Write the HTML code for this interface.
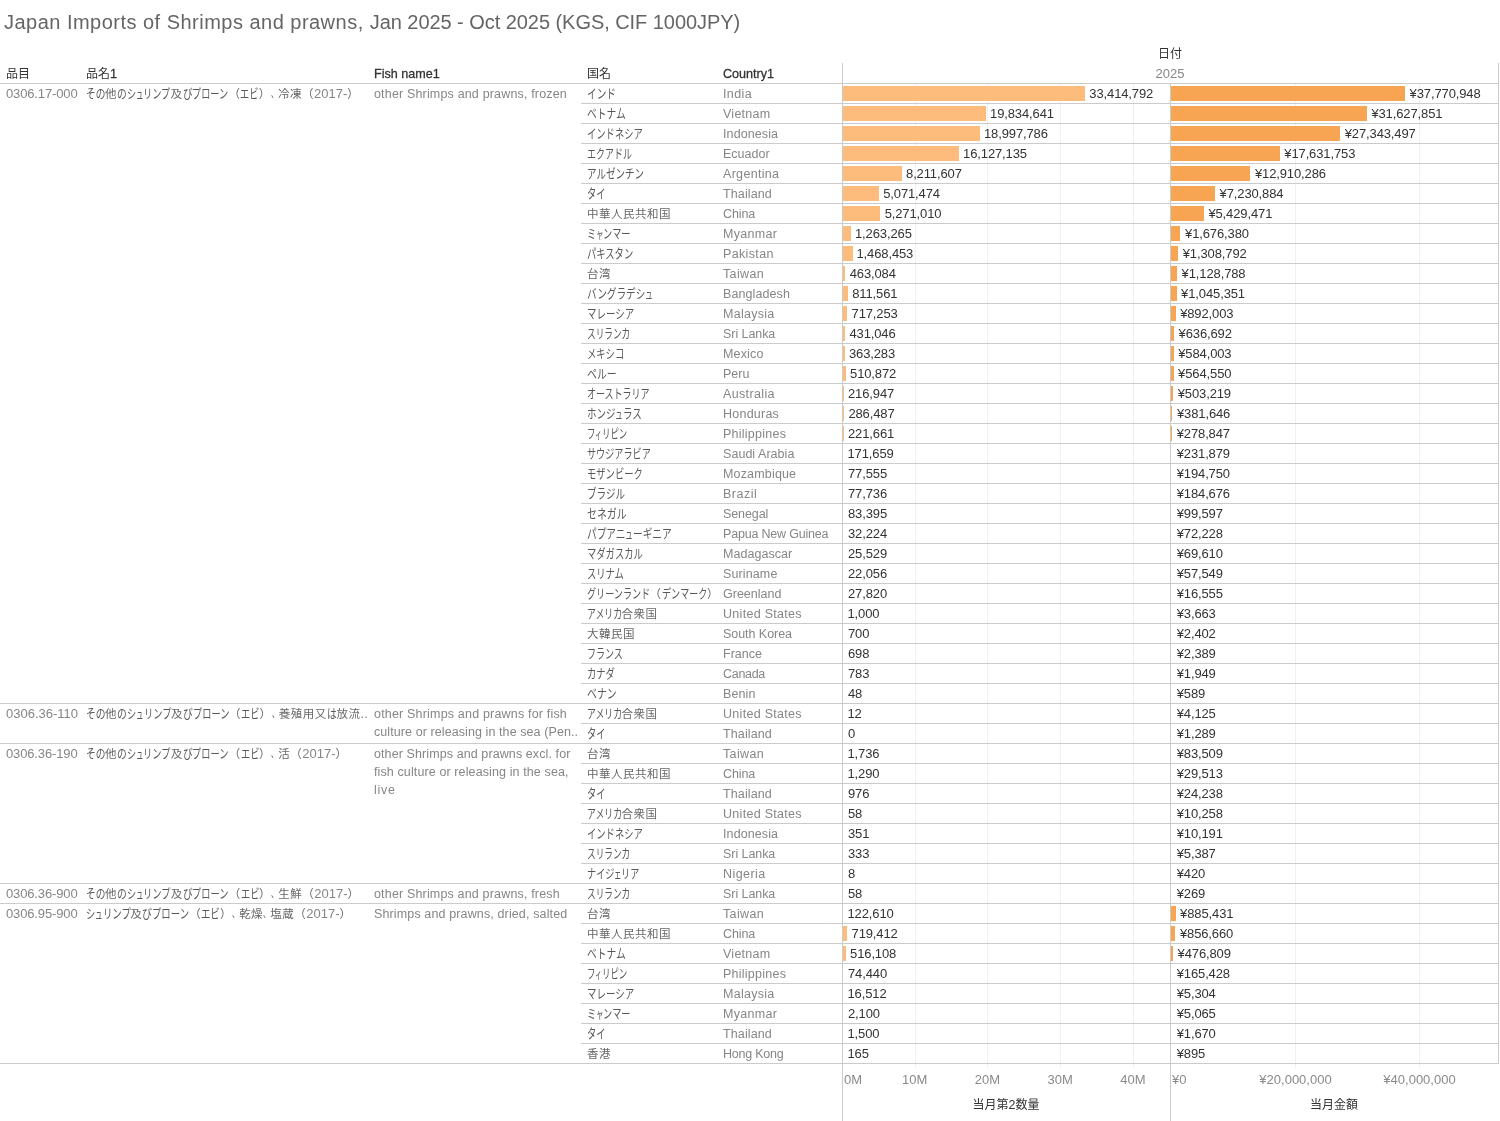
<!DOCTYPE html>
<html lang="ja"><head><meta charset="utf-8"><title>Japan Imports of Shrimps and prawns</title>
<style>
html,body{margin:0;padding:0;background:#fff}
body{width:1500px;height:1121px;position:relative;overflow:hidden;font-family:"Liberation Sans","Noto Sans CJK JP",sans-serif;font-size:12.5px;color:#333}
.h{position:absolute;height:1px}
.v{position:absolute;width:1px}
.t{position:absolute;white-space:nowrap;line-height:20px;height:20px}
.ctr{transform:translateX(-50%)}
.g{color:#868686}
.dk{color:#333}
.ax{color:#8a8a8a}
.num,.n{font-size:13px}
.dk.num{letter-spacing:-0.12px}
.hd{color:#333;font-weight:400;font-size:12px}
.hd .j,.dk .j{font-size:12px;letter-spacing:0}
.hd b{font-weight:normal;font-size:12.6px;-webkit-text-stroke:0.28px #333}
.title{font-size:20px;color:#656565;line-height:28px;height:28px}
.k,.c,.j{font-size:12px;display:inline-block}
.k{transform-origin:0 52%;font-weight:400}
.j{font-size:11.5px;letter-spacing:0.5px}
.g .j,.g .c{color:#686868}
.g .k{color:#585858}
.c{transform:scaleX(0.6);transform-origin:0 50%}
.b{position:absolute;height:15px}
.b.l{background:#fdbb7c}
.b.r{background:#f7a453}
</style></head><body>
<div class="v" style="left:915px;top:83px;height:985px;background:#f0f0f0"></div>
<div class="v" style="left:987px;top:83px;height:985px;background:#f0f0f0"></div>
<div class="v" style="left:1060px;top:83px;height:985px;background:#f0f0f0"></div>
<div class="v" style="left:1133px;top:83px;height:985px;background:#f0f0f0"></div>
<div class="v" style="left:1295px;top:83px;height:985px;background:#f0f0f0"></div>
<div class="v" style="left:1419px;top:83px;height:985px;background:#f0f0f0"></div>
<div class="t title" style="left:4.00px;top:8px;"><span style="letter-spacing:0.48px">Japan Imports of Shrimps and prawns, </span><span style="letter-spacing:-0.05px">Jan 2025 - Oct 2025 (KGS, CIF 1000JPY)</span></div>
<div class="t hd" style="left:6.00px;top:64px;"><span class="j">品目</span></div>
<div class="t hd" style="left:86.00px;top:64px;"><span class="j">品名</span><b>1</b></div>
<div class="t hd" style="left:374.00px;top:64px;"><b>Fish name1</b></div>
<div class="t hd" style="left:587.00px;top:64px;"><span class="j">国名</span></div>
<div class="t hd" style="left:723.00px;top:64px;"><b>Country1</b></div>
<div class="t dk ctr" style="left:1170.00px;top:44px;"><span class="j">日付</span></div>
<div class="t g num ctr" style="left:1170.00px;top:64px;">2025</div>
<div class="h" style="left:0px;top:83px;width:1499px;background:#cbcbcb"></div>
<div class="t g num" style="left:6.00px;top:84px;letter-spacing:-0.140px;">0306.17-000</div>
<div class="t g" style="left:85.50px;top:84px;"><span class="k" style="transform:scale(0.809,1.08);margin-right:-4.58px">その</span><span class="j">他</span><span class="k" style="transform:scale(0.809,1.08);margin-right:-2.29px">の</span><span class="k" style="transform:scale(0.765,1.08);margin-right:-2.82px">シ</span><span class="k" style="transform:scale(0.622,1.08);margin-right:-4.54px">ュ</span><span class="k" style="transform:scale(0.765,1.08);margin-right:-8.46px">リンプ</span><span class="j">及</span><span class="k" style="transform:scale(0.809,1.08);margin-right:-2.29px">び</span><span class="k" style="transform:scale(0.765,1.08);margin-right:-11.28px">プローン</span><span class="j">（</span><span class="k" style="transform:scale(0.765,1.08);margin-right:-5.64px">エビ</span><span class="j">）</span><span class="c" style="margin-right:-4.80px">、</span><span class="j">冷凍</span><span class="j">（</span><span class="n">2017-</span><span class="j">）</span></div>
<div class="t g" style="left:374.00px;top:84px;letter-spacing:0.168px;">other Shrimps and prawns, frozen</div>
<div class="t g" style="left:586.50px;top:84px;"><span class="k" style="transform:scale(0.804,1.08);margin-right:-7.06px">インド</span></div>
<div class="t g" style="left:723.00px;top:84px;letter-spacing:0.375px;">India</div>
<div class="b l" style="left:843px;top:86px;width:242.03px"></div>
<div class="t dk num" style="left:1089.33px;top:84px;">33,414,792</div>
<div class="b r" style="left:1171px;top:86px;width:234.01px"></div>
<div class="t dk num" style="left:1409.61px;top:84px;">¥37,770,948</div>
<div class="h" style="left:581px;top:103px;width:918px;background:#cbcbcb"></div>
<div class="t g" style="left:586.50px;top:104px;"><span class="k" style="transform:scale(0.811,1.08);margin-right:-9.09px">ベトナム</span></div>
<div class="t g" style="left:723.00px;top:104px;letter-spacing:0.250px;">Vietnam</div>
<div class="b l" style="left:843px;top:106px;width:143.26px"></div>
<div class="t dk num" style="left:990.06px;top:104px;">19,834,641</div>
<div class="b r" style="left:1171px;top:106px;width:195.79px"></div>
<div class="t dk num" style="left:1371.39px;top:104px;">¥31,627,851</div>
<div class="h" style="left:581px;top:123px;width:918px;background:#cbcbcb"></div>
<div class="t g" style="left:586.50px;top:124px;"><span class="k" style="transform:scale(0.775,1.08);margin-right:-16.20px">インドネシア</span></div>
<div class="t g" style="left:723.00px;top:124px;letter-spacing:0.104px;">Indonesia</div>
<div class="b l" style="left:843px;top:126px;width:137.17px"></div>
<div class="t dk num" style="left:983.97px;top:124px;">18,997,786</div>
<div class="b r" style="left:1171px;top:126px;width:169.13px"></div>
<div class="t dk num" style="left:1344.73px;top:124px;">¥27,343,497</div>
<div class="h" style="left:581px;top:143px;width:918px;background:#cbcbcb"></div>
<div class="t g" style="left:586.50px;top:144px;"><span class="k" style="transform:scale(0.748,1.08);margin-right:-15.14px">エクアドル</span></div>
<div class="t g" style="left:723.00px;top:144px;letter-spacing:0.000px;">Ecuador</div>
<div class="b l" style="left:843px;top:146px;width:116.29px"></div>
<div class="t dk num" style="left:963.09px;top:144px;">16,127,135</div>
<div class="b r" style="left:1171px;top:146px;width:108.70px"></div>
<div class="t dk num" style="left:1284.30px;top:144px;">¥17,631,753</div>
<div class="h" style="left:581px;top:163px;width:918px;background:#cbcbcb"></div>
<div class="t g" style="left:586.50px;top:164px;"><span class="k" style="transform:scale(0.794,1.08);margin-right:-14.82px">アルゼンチン</span></div>
<div class="t g" style="left:723.00px;top:164px;letter-spacing:0.312px;">Argentina</div>
<div class="b l" style="left:843px;top:166px;width:58.72px"></div>
<div class="t dk num" style="left:906.02px;top:164px;">8,211,607</div>
<div class="b r" style="left:1171px;top:166px;width:79.33px"></div>
<div class="t dk num" style="left:1254.93px;top:164px;">¥12,910,286</div>
<div class="h" style="left:581px;top:183px;width:918px;background:#cbcbcb"></div>
<div class="t g" style="left:586.50px;top:184px;"><span class="k" style="transform:scale(0.775,1.08);margin-right:-5.40px">タイ</span></div>
<div class="t g" style="left:723.00px;top:184px;letter-spacing:0.119px;">Thailand</div>
<div class="b l" style="left:843px;top:186px;width:35.88px"></div>
<div class="t dk num" style="left:883.18px;top:184px;">5,071,474</div>
<div class="b r" style="left:1171px;top:186px;width:43.99px"></div>
<div class="t dk num" style="left:1219.59px;top:184px;">¥7,230,884</div>
<div class="h" style="left:581px;top:203px;width:918px;background:#cbcbcb"></div>
<div class="t g" style="left:587.00px;top:204px;"><span class="j">中華人民共和国</span></div>
<div class="t g" style="left:723.00px;top:204px;letter-spacing:-0.125px;">China</div>
<div class="b l" style="left:843px;top:206px;width:37.34px"></div>
<div class="t dk num" style="left:884.64px;top:204px;">5,271,010</div>
<div class="b r" style="left:1171px;top:206px;width:32.78px"></div>
<div class="t dk num" style="left:1208.38px;top:204px;">¥5,429,471</div>
<div class="h" style="left:581px;top:223px;width:918px;background:#cbcbcb"></div>
<div class="t g" style="left:586.50px;top:224px;"><span class="k" style="transform:scale(0.765,1.08);margin-right:-2.82px">ミ</span><span class="k" style="transform:scale(0.622,1.08);margin-right:-4.54px">ャ</span><span class="k" style="transform:scale(0.765,1.08);margin-right:-8.46px">ンマー</span></div>
<div class="t g" style="left:723.00px;top:224px;letter-spacing:0.306px;">Myanmar</div>
<div class="b l" style="left:843px;top:226px;width:8.19px"></div>
<div class="t dk num" style="left:854.99px;top:224px;">1,263,265</div>
<div class="b r" style="left:1171px;top:226px;width:9.43px"></div>
<div class="t dk num" style="left:1185.03px;top:224px;">¥1,676,380</div>
<div class="h" style="left:581px;top:243px;width:918px;background:#cbcbcb"></div>
<div class="t g" style="left:586.50px;top:244px;"><span class="k" style="transform:scale(0.775,1.08);margin-right:-13.50px">パキスタン</span></div>
<div class="t g" style="left:723.00px;top:244px;letter-spacing:0.357px;">Pakistan</div>
<div class="b l" style="left:843px;top:246px;width:9.68px"></div>
<div class="t dk num" style="left:856.48px;top:244px;">1,468,453</div>
<div class="b r" style="left:1171px;top:246px;width:7.14px"></div>
<div class="t dk num" style="left:1182.74px;top:244px;">¥1,308,792</div>
<div class="h" style="left:581px;top:263px;width:918px;background:#cbcbcb"></div>
<div class="t g" style="left:587.00px;top:264px;"><span class="j">台湾</span></div>
<div class="t g" style="left:723.00px;top:264px;letter-spacing:0.367px;">Taiwan</div>
<div class="b l" style="left:843px;top:266px;width:2.37px"></div>
<div class="t dk num" style="left:849.67px;top:264px;">463,084</div>
<div class="b r" style="left:1171px;top:266px;width:6.02px"></div>
<div class="t dk num" style="left:1181.62px;top:264px;">¥1,128,788</div>
<div class="h" style="left:581px;top:283px;width:918px;background:#cbcbcb"></div>
<div class="t g" style="left:586.50px;top:284px;"><span class="k" style="transform:scale(0.804,1.08);margin-right:-14.13px">バングラデシ</span><span class="k" style="transform:scale(0.653,1.08);margin-right:-4.16px">ュ</span></div>
<div class="t g" style="left:723.00px;top:284px;letter-spacing:0.093px;">Bangladesh</div>
<div class="b l" style="left:843px;top:286px;width:4.90px"></div>
<div class="t dk num" style="left:852.20px;top:284px;">811,561</div>
<div class="b r" style="left:1171px;top:286px;width:5.50px"></div>
<div class="t dk num" style="left:1181.10px;top:284px;">¥1,045,351</div>
<div class="h" style="left:581px;top:303px;width:918px;background:#cbcbcb"></div>
<div class="t g" style="left:586.50px;top:304px;"><span class="k" style="transform:scale(0.792,1.08);margin-right:-12.46px">マレーシア</span></div>
<div class="t g" style="left:723.00px;top:304px;letter-spacing:0.262px;">Malaysia</div>
<div class="b l" style="left:843px;top:306px;width:4.22px"></div>
<div class="t dk num" style="left:851.52px;top:304px;">717,253</div>
<div class="b r" style="left:1171px;top:306px;width:4.55px"></div>
<div class="t dk num" style="left:1180.15px;top:304px;">¥892,003</div>
<div class="h" style="left:581px;top:323px;width:918px;background:#cbcbcb"></div>
<div class="t g" style="left:586.50px;top:324px;"><span class="k" style="transform:scale(0.720,1.08);margin-right:-16.79px">スリランカ</span></div>
<div class="t g" style="left:723.00px;top:324px;letter-spacing:-0.062px;">Sri Lanka</div>
<div class="b l" style="left:843px;top:326px;width:2.13px"></div>
<div class="t dk num" style="left:849.43px;top:324px;">431,046</div>
<div class="b r" style="left:1171px;top:326px;width:2.96px"></div>
<div class="t dk num" style="left:1178.56px;top:324px;">¥636,692</div>
<div class="h" style="left:581px;top:343px;width:918px;background:#cbcbcb"></div>
<div class="t g" style="left:586.50px;top:344px;"><span class="k" style="transform:scale(0.775,1.08);margin-right:-10.80px">メキシコ</span></div>
<div class="t g" style="left:723.00px;top:344px;letter-spacing:0.167px;">Mexico</div>
<div class="b l" style="left:843px;top:346px;width:1.64px"></div>
<div class="t dk num" style="left:848.94px;top:344px;">363,283</div>
<div class="b r" style="left:1171px;top:346px;width:2.63px"></div>
<div class="t dk num" style="left:1178.23px;top:344px;">¥584,003</div>
<div class="h" style="left:581px;top:363px;width:918px;background:#cbcbcb"></div>
<div class="t g" style="left:586.50px;top:364px;"><span class="k" style="transform:scale(0.823,1.08);margin-right:-6.39px">ペルー</span></div>
<div class="t g" style="left:723.00px;top:364px;letter-spacing:0.000px;">Peru</div>
<div class="b l" style="left:843px;top:366px;width:2.72px"></div>
<div class="t dk num" style="left:850.02px;top:364px;">510,872</div>
<div class="b r" style="left:1171px;top:366px;width:2.51px"></div>
<div class="t dk num" style="left:1178.11px;top:364px;">¥564,550</div>
<div class="h" style="left:581px;top:383px;width:918px;background:#cbcbcb"></div>
<div class="t g" style="left:586.50px;top:384px;"><span class="k" style="transform:scale(0.751,1.08);margin-right:-20.88px">オーストラリア</span></div>
<div class="t g" style="left:723.00px;top:384px;letter-spacing:0.354px;">Australia</div>
<div class="b l" style="left:843px;top:386px;width:0.58px"></div>
<div class="t dk num" style="left:848.00px;top:384px;">216,947</div>
<div class="b r" style="left:1171px;top:386px;width:2.13px"></div>
<div class="t dk num" style="left:1177.73px;top:384px;">¥503,219</div>
<div class="h" style="left:581px;top:403px;width:918px;background:#cbcbcb"></div>
<div class="t g" style="left:586.50px;top:404px;"><span class="k" style="transform:scale(0.794,1.08);margin-right:-7.41px">ホンジ</span><span class="k" style="transform:scale(0.646,1.08);margin-right:-4.25px">ュ</span><span class="k" style="transform:scale(0.794,1.08);margin-right:-4.94px">ラス</span></div>
<div class="t g" style="left:723.00px;top:404px;letter-spacing:0.238px;">Honduras</div>
<div class="b l" style="left:843px;top:406px;width:1.08px"></div>
<div class="t dk num" style="left:848.38px;top:404px;">286,487</div>
<div class="b r" style="left:1171px;top:406px;width:1.37px"></div>
<div class="t dk num" style="left:1176.97px;top:404px;">¥381,646</div>
<div class="h" style="left:581px;top:423px;width:918px;background:#cbcbcb"></div>
<div class="t g" style="left:586.50px;top:424px;"><span class="k" style="transform:scale(0.703,1.08);margin-right:-3.57px">フ</span><span class="k" style="transform:scale(0.571,1.08);margin-right:-5.14px">ィ</span><span class="k" style="transform:scale(0.703,1.08);margin-right:-10.70px">リピン</span></div>
<div class="t g" style="left:723.00px;top:424px;letter-spacing:0.250px;">Philippines</div>
<div class="b l" style="left:843px;top:426px;width:0.61px"></div>
<div class="t dk num" style="left:848.00px;top:424px;">221,661</div>
<div class="b r" style="left:1171px;top:426px;width:0.73px"></div>
<div class="t dk num" style="left:1176.70px;top:424px;">¥278,847</div>
<div class="h" style="left:581px;top:443px;width:918px;background:#cbcbcb"></div>
<div class="t g" style="left:586.50px;top:444px;"><span class="k" style="transform:scale(0.759,1.08);margin-right:-20.21px">サウジアラビア</span></div>
<div class="t g" style="left:723.00px;top:444px;letter-spacing:0.045px;">Saudi Arabia</div>
<div class="t dk num" style="left:847.50px;top:444px;">171,659</div>
<div class="t dk num" style="left:1176.70px;top:444px;">¥231,879</div>
<div class="h" style="left:581px;top:463px;width:918px;background:#cbcbcb"></div>
<div class="t g" style="left:586.50px;top:464px;"><span class="k" style="transform:scale(0.775,1.08);margin-right:-16.20px">モザンビーク</span></div>
<div class="t g" style="left:723.00px;top:464px;letter-spacing:0.167px;">Mozambique</div>
<div class="t dk num" style="left:848.00px;top:464px;">77,555</div>
<div class="t dk num" style="left:1176.70px;top:464px;">¥194,750</div>
<div class="h" style="left:581px;top:483px;width:918px;background:#cbcbcb"></div>
<div class="t g" style="left:586.50px;top:484px;"><span class="k" style="transform:scale(0.797,1.08);margin-right:-9.76px">ブラジル</span></div>
<div class="t g" style="left:723.00px;top:484px;letter-spacing:0.500px;">Brazil</div>
<div class="t dk num" style="left:848.00px;top:484px;">77,736</div>
<div class="t dk num" style="left:1176.70px;top:484px;">¥184,676</div>
<div class="h" style="left:581px;top:503px;width:918px;background:#cbcbcb"></div>
<div class="t g" style="left:586.50px;top:504px;"><span class="k" style="transform:scale(0.825,1.08);margin-right:-8.38px">セネガル</span></div>
<div class="t g" style="left:723.00px;top:504px;letter-spacing:-0.083px;">Senegal</div>
<div class="t dk num" style="left:848.00px;top:504px;">83,395</div>
<div class="t dk num" style="left:1176.70px;top:504px;">¥99,597</div>
<div class="h" style="left:581px;top:523px;width:918px;background:#cbcbcb"></div>
<div class="t g" style="left:586.50px;top:524px;"><span class="k" style="transform:scale(0.807,1.08);margin-right:-9.28px">パプアニ</span><span class="k" style="transform:scale(0.656,1.08);margin-right:-4.13px">ュ</span><span class="k" style="transform:scale(0.807,1.08);margin-right:-9.28px">ーギニア</span></div>
<div class="t g" style="left:723.00px;top:524px;letter-spacing:-0.189px;">Papua New Guinea</div>
<div class="t dk num" style="left:848.00px;top:524px;">32,224</div>
<div class="t dk num" style="left:1176.70px;top:524px;">¥72,228</div>
<div class="h" style="left:581px;top:543px;width:918px;background:#cbcbcb"></div>
<div class="t g" style="left:586.50px;top:544px;"><span class="k" style="transform:scale(0.775,1.08);margin-right:-16.20px">マダガスカル</span></div>
<div class="t g" style="left:723.00px;top:544px;letter-spacing:0.037px;">Madagascar</div>
<div class="t dk num" style="left:848.00px;top:544px;">25,529</div>
<div class="t dk num" style="left:1176.70px;top:544px;">¥69,610</div>
<div class="h" style="left:581px;top:563px;width:918px;background:#cbcbcb"></div>
<div class="t g" style="left:586.50px;top:564px;"><span class="k" style="transform:scale(0.775,1.08);margin-right:-10.80px">スリナム</span></div>
<div class="t g" style="left:723.00px;top:564px;letter-spacing:0.119px;">Suriname</div>
<div class="t dk num" style="left:848.00px;top:564px;">22,056</div>
<div class="t dk num" style="left:1176.70px;top:564px;">¥57,549</div>
<div class="h" style="left:581px;top:583px;width:918px;background:#cbcbcb"></div>
<div class="t g" style="left:586.50px;top:584px;"><span class="k" style="transform:scale(0.757,1.08);margin-right:-20.42px">グリーンランド</span><span class="j">（</span><span class="k" style="transform:scale(0.757,1.08);margin-right:-14.59px">デンマーク</span><span class="j">）</span></div>
<div class="t g" style="left:723.00px;top:584px;letter-spacing:0.000px;">Greenland</div>
<div class="t dk num" style="left:848.00px;top:584px;">27,820</div>
<div class="t dk num" style="left:1176.70px;top:584px;">¥16,555</div>
<div class="h" style="left:581px;top:603px;width:918px;background:#cbcbcb"></div>
<div class="t g" style="left:586.50px;top:604px;"><span class="k" style="transform:scale(0.741,1.08);margin-right:-12.41px">アメリカ</span><span class="j">合衆国</span></div>
<div class="t g" style="left:723.00px;top:604px;letter-spacing:0.292px;">United States</div>
<div class="t dk num" style="left:847.50px;top:604px;">1,000</div>
<div class="t dk num" style="left:1176.70px;top:604px;">¥3,663</div>
<div class="h" style="left:581px;top:623px;width:918px;background:#cbcbcb"></div>
<div class="t g" style="left:587.00px;top:624px;"><span class="j">大韓民国</span></div>
<div class="t g" style="left:723.00px;top:624px;letter-spacing:-0.050px;">South Korea</div>
<div class="t dk num" style="left:848.00px;top:624px;">700</div>
<div class="t dk num" style="left:1176.70px;top:624px;">¥2,402</div>
<div class="h" style="left:581px;top:643px;width:918px;background:#cbcbcb"></div>
<div class="t g" style="left:586.50px;top:644px;"><span class="k" style="transform:scale(0.748,1.08);margin-right:-12.11px">フランス</span></div>
<div class="t g" style="left:723.00px;top:644px;letter-spacing:0.000px;">France</div>
<div class="t dk num" style="left:848.00px;top:644px;">698</div>
<div class="t dk num" style="left:1176.70px;top:644px;">¥2,389</div>
<div class="h" style="left:581px;top:663px;width:918px;background:#cbcbcb"></div>
<div class="t g" style="left:586.50px;top:664px;"><span class="k" style="transform:scale(0.775,1.08);margin-right:-8.10px">カナダ</span></div>
<div class="t g" style="left:723.00px;top:664px;letter-spacing:-0.300px;">Canada</div>
<div class="t dk num" style="left:848.00px;top:664px;">783</div>
<div class="t dk num" style="left:1176.70px;top:664px;">¥1,949</div>
<div class="h" style="left:581px;top:683px;width:918px;background:#cbcbcb"></div>
<div class="t g" style="left:586.50px;top:684px;"><span class="k" style="transform:scale(0.823,1.08);margin-right:-6.39px">ベナン</span></div>
<div class="t g" style="left:723.00px;top:684px;letter-spacing:0.125px;">Benin</div>
<div class="t dk num" style="left:848.00px;top:684px;">48</div>
<div class="t dk num" style="left:1176.70px;top:684px;">¥589</div>
<div class="h" style="left:581px;top:703px;width:918px;background:#cbcbcb"></div>
<div class="h" style="left:0px;top:703px;width:581px;background:#cbcbcb"></div>
<div class="t g num" style="left:6.00px;top:704px;letter-spacing:0.000px;">0306.36-110</div>
<div class="t g" style="left:85.50px;top:704px;"><span class="k" style="transform:scale(0.814,1.08);margin-right:-4.47px">その</span><span class="j">他</span><span class="k" style="transform:scale(0.814,1.08);margin-right:-2.23px">の</span><span class="k" style="transform:scale(0.769,1.08);margin-right:-2.77px">シ</span><span class="k" style="transform:scale(0.625,1.08);margin-right:-4.50px">ュ</span><span class="k" style="transform:scale(0.769,1.08);margin-right:-8.31px">リンプ</span><span class="j">及</span><span class="k" style="transform:scale(0.814,1.08);margin-right:-2.23px">び</span><span class="k" style="transform:scale(0.769,1.08);margin-right:-11.08px">プローン</span><span class="j">（</span><span class="k" style="transform:scale(0.769,1.08);margin-right:-5.54px">エビ</span><span class="j">）</span><span class="c" style="margin-right:-4.80px">、</span><span class="j">養殖用又</span><span class="k" style="transform:scale(0.814,1.08);margin-right:-2.23px">は</span><span class="j">放流</span><span class="n">..</span></div>
<div class="t g" style="left:374.00px;top:704px;letter-spacing:0.184px;">other Shrimps and prawns for fish</div>
<div class="t g" style="left:374.00px;top:722px;letter-spacing:0.086px;">culture or releasing in the sea (Pen..</div>
<div class="t g" style="left:586.50px;top:704px;"><span class="k" style="transform:scale(0.741,1.08);margin-right:-12.41px">アメリカ</span><span class="j">合衆国</span></div>
<div class="t g" style="left:723.00px;top:704px;letter-spacing:0.292px;">United States</div>
<div class="t dk num" style="left:847.50px;top:704px;">12</div>
<div class="t dk num" style="left:1176.70px;top:704px;">¥4,125</div>
<div class="h" style="left:581px;top:723px;width:918px;background:#cbcbcb"></div>
<div class="t g" style="left:586.50px;top:724px;"><span class="k" style="transform:scale(0.775,1.08);margin-right:-5.40px">タイ</span></div>
<div class="t g" style="left:723.00px;top:724px;letter-spacing:0.119px;">Thailand</div>
<div class="t dk num" style="left:848.00px;top:724px;">0</div>
<div class="t dk num" style="left:1176.70px;top:724px;">¥1,289</div>
<div class="h" style="left:581px;top:743px;width:918px;background:#cbcbcb"></div>
<div class="h" style="left:0px;top:743px;width:581px;background:#cbcbcb"></div>
<div class="t g num" style="left:6.00px;top:744px;letter-spacing:-0.140px;">0306.36-190</div>
<div class="t g" style="left:85.50px;top:744px;"><span class="k" style="transform:scale(0.811,1.08);margin-right:-4.53px">その</span><span class="j">他</span><span class="k" style="transform:scale(0.811,1.08);margin-right:-2.27px">の</span><span class="k" style="transform:scale(0.767,1.08);margin-right:-2.80px">シ</span><span class="k" style="transform:scale(0.623,1.08);margin-right:-4.52px">ュ</span><span class="k" style="transform:scale(0.767,1.08);margin-right:-8.40px">リンプ</span><span class="j">及</span><span class="k" style="transform:scale(0.811,1.08);margin-right:-2.27px">び</span><span class="k" style="transform:scale(0.767,1.08);margin-right:-11.20px">プローン</span><span class="j">（</span><span class="k" style="transform:scale(0.767,1.08);margin-right:-5.60px">エビ</span><span class="j">）</span><span class="c" style="margin-right:-4.80px">、</span><span class="j">活</span><span class="j">（</span><span class="n">2017-</span><span class="j">）</span></div>
<div class="t g" style="left:374.00px;top:744px;letter-spacing:0.097px;">other Shrimps and prawns excl. for</div>
<div class="t g" style="left:374.00px;top:762px;letter-spacing:0.114px;">fish culture or releasing in the sea,</div>
<div class="t g" style="left:374.00px;top:780px;letter-spacing:0.733px;">live</div>
<div class="t g" style="left:587.00px;top:744px;"><span class="j">台湾</span></div>
<div class="t g" style="left:723.00px;top:744px;letter-spacing:0.367px;">Taiwan</div>
<div class="t dk num" style="left:847.50px;top:744px;">1,736</div>
<div class="t dk num" style="left:1176.70px;top:744px;">¥83,509</div>
<div class="h" style="left:581px;top:763px;width:918px;background:#cbcbcb"></div>
<div class="t g" style="left:587.00px;top:764px;"><span class="j">中華人民共和国</span></div>
<div class="t g" style="left:723.00px;top:764px;letter-spacing:-0.125px;">China</div>
<div class="t dk num" style="left:847.50px;top:764px;">1,290</div>
<div class="t dk num" style="left:1176.70px;top:764px;">¥29,513</div>
<div class="h" style="left:581px;top:783px;width:918px;background:#cbcbcb"></div>
<div class="t g" style="left:586.50px;top:784px;"><span class="k" style="transform:scale(0.775,1.08);margin-right:-5.40px">タイ</span></div>
<div class="t g" style="left:723.00px;top:784px;letter-spacing:0.119px;">Thailand</div>
<div class="t dk num" style="left:848.00px;top:784px;">976</div>
<div class="t dk num" style="left:1176.70px;top:784px;">¥24,238</div>
<div class="h" style="left:581px;top:803px;width:918px;background:#cbcbcb"></div>
<div class="t g" style="left:586.50px;top:804px;"><span class="k" style="transform:scale(0.741,1.08);margin-right:-12.41px">アメリカ</span><span class="j">合衆国</span></div>
<div class="t g" style="left:723.00px;top:804px;letter-spacing:0.292px;">United States</div>
<div class="t dk num" style="left:848.00px;top:804px;">58</div>
<div class="t dk num" style="left:1176.70px;top:804px;">¥10,258</div>
<div class="h" style="left:581px;top:823px;width:918px;background:#cbcbcb"></div>
<div class="t g" style="left:586.50px;top:824px;"><span class="k" style="transform:scale(0.775,1.08);margin-right:-16.20px">インドネシア</span></div>
<div class="t g" style="left:723.00px;top:824px;letter-spacing:0.104px;">Indonesia</div>
<div class="t dk num" style="left:848.00px;top:824px;">351</div>
<div class="t dk num" style="left:1176.70px;top:824px;">¥10,191</div>
<div class="h" style="left:581px;top:843px;width:918px;background:#cbcbcb"></div>
<div class="t g" style="left:586.50px;top:844px;"><span class="k" style="transform:scale(0.720,1.08);margin-right:-16.79px">スリランカ</span></div>
<div class="t g" style="left:723.00px;top:844px;letter-spacing:-0.062px;">Sri Lanka</div>
<div class="t dk num" style="left:848.00px;top:844px;">333</div>
<div class="t dk num" style="left:1176.70px;top:844px;">¥5,387</div>
<div class="h" style="left:581px;top:863px;width:918px;background:#cbcbcb"></div>
<div class="t g" style="left:586.50px;top:864px;"><span class="k" style="transform:scale(0.762,1.08);margin-right:-8.57px">ナイジ</span><span class="k" style="transform:scale(0.619,1.08);margin-right:-4.57px">ェ</span><span class="k" style="transform:scale(0.762,1.08);margin-right:-5.71px">リア</span></div>
<div class="t g" style="left:723.00px;top:864px;letter-spacing:0.417px;">Nigeria</div>
<div class="t dk num" style="left:848.00px;top:864px;">8</div>
<div class="t dk num" style="left:1176.70px;top:864px;">¥420</div>
<div class="h" style="left:581px;top:883px;width:918px;background:#cbcbcb"></div>
<div class="h" style="left:0px;top:883px;width:581px;background:#cbcbcb"></div>
<div class="t g num" style="left:6.00px;top:884px;letter-spacing:-0.140px;">0306.36-900</div>
<div class="t g" style="left:85.50px;top:884px;"><span class="k" style="transform:scale(0.811,1.08);margin-right:-4.53px">その</span><span class="j">他</span><span class="k" style="transform:scale(0.811,1.08);margin-right:-2.27px">の</span><span class="k" style="transform:scale(0.767,1.08);margin-right:-2.80px">シ</span><span class="k" style="transform:scale(0.623,1.08);margin-right:-4.52px">ュ</span><span class="k" style="transform:scale(0.767,1.08);margin-right:-8.40px">リンプ</span><span class="j">及</span><span class="k" style="transform:scale(0.811,1.08);margin-right:-2.27px">び</span><span class="k" style="transform:scale(0.767,1.08);margin-right:-11.20px">プローン</span><span class="j">（</span><span class="k" style="transform:scale(0.767,1.08);margin-right:-5.60px">エビ</span><span class="j">）</span><span class="c" style="margin-right:-4.80px">、</span><span class="j">生鮮</span><span class="j">（</span><span class="n">2017-</span><span class="j">）</span></div>
<div class="t g" style="left:374.00px;top:884px;letter-spacing:0.167px;">other Shrimps and prawns, fresh</div>
<div class="t g" style="left:586.50px;top:884px;"><span class="k" style="transform:scale(0.720,1.08);margin-right:-16.79px">スリランカ</span></div>
<div class="t g" style="left:723.00px;top:884px;letter-spacing:-0.062px;">Sri Lanka</div>
<div class="t dk num" style="left:848.00px;top:884px;">58</div>
<div class="t dk num" style="left:1176.70px;top:884px;">¥269</div>
<div class="h" style="left:581px;top:903px;width:918px;background:#cbcbcb"></div>
<div class="h" style="left:0px;top:903px;width:581px;background:#cbcbcb"></div>
<div class="t g num" style="left:6.00px;top:904px;letter-spacing:-0.140px;">0306.95-900</div>
<div class="t g" style="left:85.50px;top:904px;"><span class="k" style="transform:scale(0.781,1.08);margin-right:-2.63px">シ</span><span class="k" style="transform:scale(0.635,1.08);margin-right:-4.38px">ュ</span><span class="k" style="transform:scale(0.781,1.08);margin-right:-7.88px">リンプ</span><span class="j">及</span><span class="k" style="transform:scale(0.827,1.08);margin-right:-2.08px">び</span><span class="k" style="transform:scale(0.781,1.08);margin-right:-10.50px">プローン</span><span class="j">（</span><span class="k" style="transform:scale(0.781,1.08);margin-right:-5.25px">エビ</span><span class="j">）</span><span class="c" style="margin-right:-4.80px">、</span><span class="j">乾燥</span><span class="c" style="margin-right:-4.80px">、</span><span class="j">塩蔵</span><span class="j">（</span><span class="n">2017-</span><span class="j">）</span></div>
<div class="t g" style="left:374.00px;top:904px;letter-spacing:0.131px;">Shrimps and prawns, dried, salted</div>
<div class="t g" style="left:587.00px;top:904px;"><span class="j">台湾</span></div>
<div class="t g" style="left:723.00px;top:904px;letter-spacing:0.367px;">Taiwan</div>
<div class="t dk num" style="left:847.50px;top:904px;">122,610</div>
<div class="b r" style="left:1171px;top:906px;width:4.51px"></div>
<div class="t dk num" style="left:1180.11px;top:904px;">¥885,431</div>
<div class="h" style="left:581px;top:923px;width:918px;background:#cbcbcb"></div>
<div class="t g" style="left:587.00px;top:924px;"><span class="j">中華人民共和国</span></div>
<div class="t g" style="left:723.00px;top:924px;letter-spacing:-0.125px;">China</div>
<div class="b l" style="left:843px;top:926px;width:4.23px"></div>
<div class="t dk num" style="left:851.53px;top:924px;">719,412</div>
<div class="b r" style="left:1171px;top:926px;width:4.33px"></div>
<div class="t dk num" style="left:1179.93px;top:924px;">¥856,660</div>
<div class="h" style="left:581px;top:943px;width:918px;background:#cbcbcb"></div>
<div class="t g" style="left:586.50px;top:944px;"><span class="k" style="transform:scale(0.811,1.08);margin-right:-9.09px">ベトナム</span></div>
<div class="t g" style="left:723.00px;top:944px;letter-spacing:0.250px;">Vietnam</div>
<div class="b l" style="left:843px;top:946px;width:2.75px"></div>
<div class="t dk num" style="left:850.05px;top:944px;">516,108</div>
<div class="b r" style="left:1171px;top:946px;width:1.97px"></div>
<div class="t dk num" style="left:1177.57px;top:944px;">¥476,809</div>
<div class="h" style="left:581px;top:963px;width:918px;background:#cbcbcb"></div>
<div class="t g" style="left:586.50px;top:964px;"><span class="k" style="transform:scale(0.703,1.08);margin-right:-3.57px">フ</span><span class="k" style="transform:scale(0.571,1.08);margin-right:-5.14px">ィ</span><span class="k" style="transform:scale(0.703,1.08);margin-right:-10.70px">リピン</span></div>
<div class="t g" style="left:723.00px;top:964px;letter-spacing:0.250px;">Philippines</div>
<div class="t dk num" style="left:848.00px;top:964px;">74,440</div>
<div class="t dk num" style="left:1176.70px;top:964px;">¥165,428</div>
<div class="h" style="left:581px;top:983px;width:918px;background:#cbcbcb"></div>
<div class="t g" style="left:586.50px;top:984px;"><span class="k" style="transform:scale(0.792,1.08);margin-right:-12.46px">マレーシア</span></div>
<div class="t g" style="left:723.00px;top:984px;letter-spacing:0.262px;">Malaysia</div>
<div class="t dk num" style="left:847.50px;top:984px;">16,512</div>
<div class="t dk num" style="left:1176.70px;top:984px;">¥5,304</div>
<div class="h" style="left:581px;top:1003px;width:918px;background:#cbcbcb"></div>
<div class="t g" style="left:586.50px;top:1004px;"><span class="k" style="transform:scale(0.765,1.08);margin-right:-2.82px">ミ</span><span class="k" style="transform:scale(0.622,1.08);margin-right:-4.54px">ャ</span><span class="k" style="transform:scale(0.765,1.08);margin-right:-8.46px">ンマー</span></div>
<div class="t g" style="left:723.00px;top:1004px;letter-spacing:0.306px;">Myanmar</div>
<div class="t dk num" style="left:848.00px;top:1004px;">2,100</div>
<div class="t dk num" style="left:1176.70px;top:1004px;">¥5,065</div>
<div class="h" style="left:581px;top:1023px;width:918px;background:#cbcbcb"></div>
<div class="t g" style="left:586.50px;top:1024px;"><span class="k" style="transform:scale(0.775,1.08);margin-right:-5.40px">タイ</span></div>
<div class="t g" style="left:723.00px;top:1024px;letter-spacing:0.119px;">Thailand</div>
<div class="t dk num" style="left:847.50px;top:1024px;">1,500</div>
<div class="t dk num" style="left:1176.70px;top:1024px;">¥1,670</div>
<div class="h" style="left:581px;top:1043px;width:918px;background:#cbcbcb"></div>
<div class="t g" style="left:587.00px;top:1044px;"><span class="j">香港</span></div>
<div class="t g" style="left:723.00px;top:1044px;letter-spacing:-0.229px;">Hong Kong</div>
<div class="t dk num" style="left:847.50px;top:1044px;">165</div>
<div class="t dk num" style="left:1176.70px;top:1044px;">¥895</div>
<div class="h" style="left:581px;top:1063px;width:918px;background:#cbcbcb"></div>
<div class="h" style="left:0px;top:1063px;width:581px;background:#cbcbcb"></div>
<div class="v" style="left:842px;top:63px;height:1058px;background:#cbcbcb"></div>
<div class="v" style="left:1170px;top:83px;height:1038px;background:#cbcbcb"></div>
<div class="v" style="left:1498px;top:63px;height:1001px;background:#cbcbcb"></div>
<div class="t ax num" style="left:844.00px;top:1070px;">0M</div>
<div class="t ax num ctr" style="left:914.73px;top:1070px;">10M</div>
<div class="t ax num ctr" style="left:987.46px;top:1070px;">20M</div>
<div class="t ax num ctr" style="left:1060.19px;top:1070px;">30M</div>
<div class="t ax num ctr" style="left:1132.92px;top:1070px;">40M</div>
<div class="t ax num" style="left:1172.00px;top:1070px;">¥0</div>
<div class="t ax num ctr" style="left:1295.50px;top:1070px;">¥20,000,000</div>
<div class="t ax num ctr" style="left:1419.50px;top:1070px;">¥40,000,000</div>
<div class="t dk ctr" style="left:1006.00px;top:1095px;"><span class="j">当月第</span>2<span class="j">数量</span></div>
<div class="t dk ctr" style="left:1334.00px;top:1095px;"><span class="j">当月金額</span></div>
</body></html>
